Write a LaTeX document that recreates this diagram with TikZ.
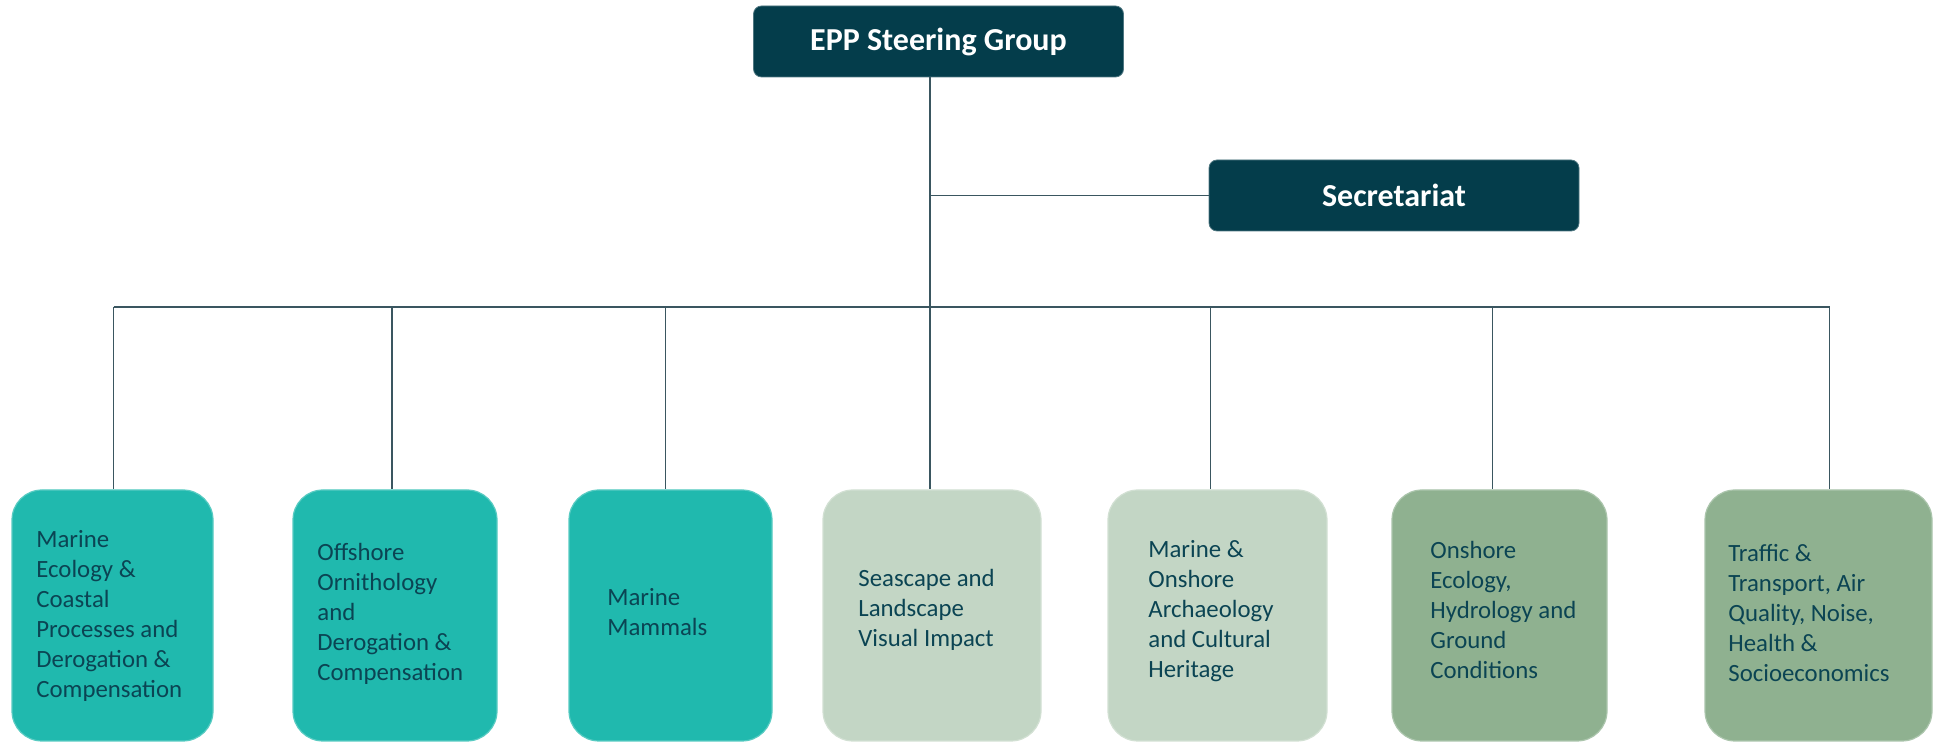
\documentclass[tikz,border=0pt]{standalone}
\usepackage{fontspec}
\setmainfont{Carlito}

\definecolor{headfill}{HTML}{043D4B}
\definecolor{tealfill}{HTML}{20B9AE}
\definecolor{sagelight}{HTML}{C3D6C5}
\definecolor{sagedark}{HTML}{8FB190}
\definecolor{boxtext}{HTML}{0B4453}
\definecolor{linkline}{HTML}{3A5660}

\tikzset{
	head/.style={rectangle, rounded corners=4pt, fill=headfill, draw=headfill!70!white, line width=0.4pt,
		minimum width=185pt, minimum height=35.5pt, text=white, font=\fontsize{16}{19}\selectfont\bfseries},
	group/.style={rectangle, rounded corners=15pt, fill=#1, draw=#1!75!white, line width=0.6pt,
		minimum height=125.5pt, inner sep=0pt},
	grouptext/.style={anchor=west, inner sep=0pt, align=left, text=boxtext, font=\fontsize{12.4}{15}\selectfont},
	link/.style={draw=linkline, line width=0.75pt}
}

\begin{document}
\begin{tikzpicture}[x=0.5pt, y=-0.5pt]
		\useasboundingbox ( 0, 0 ) rectangle ( 1935, 742 );

		% руководство
		\node [head] (epp) at ( 938.5, 41.5 ) {EPP Steering Group};
		\node [head] (sec) at ( 1394, 195.5 ) {Secretariat};

		% рабочие группы
		\node [group=tealfill, minimum width=100.5pt] (g1) at ( 112.5, 615.5 ) {};
		\node [group=tealfill, minimum width=102pt] (g2) at ( 395, 615.5 ) {};
		\node [group=tealfill, minimum width=101.5pt] (g3) at ( 670.5, 615.5 ) {};
		\node [group=sagelight, minimum width=109pt] (g4) at ( 932, 615.5 ) {};
		\node [group=sagelight, minimum width=109.5pt] (g5) at ( 1217.5, 615.5 ) {};
		\node [group=sagedark, minimum width=107.5pt] (g6) at ( 1499.5, 615.5 ) {};
		\node [group=sagedark, minimum width=113.5pt] (g7) at ( 1818.5, 615.5 ) {};

		\node [grouptext] (t1) at ( 36, 616 ) {Marine\\Ecology \&\\Coastal\\Processes and\\Derogation \&\\Compensation};
		\node [grouptext] (t2) at ( 317, 614 ) {Offshore\\Ornithology\\and\\Derogation \&\\Compensation};
		\node [grouptext] (t3) at ( 607, 612 ) {Marine\\Mammals};
		\node [grouptext] (t4) at ( 858, 610 ) {Seascape and\\Landscape\\Visual Impact};
		\node [grouptext] (t5) at ( 1148, 611 ) {Marine \&\\Onshore\\Archaeology\\and Cultural\\Heritage};
		\node [grouptext] (t6) at ( 1430, 610 ) {Onshore\\Ecology,\\Hydrology and\\Ground\\Conditions};
		\node [grouptext] (t7) at ( 1728, 613 ) {Traffic \&\\Transport, Air\\Quality, Noise,\\Health \&\\Socioeconomics};

		% связи
		\coordinate (bus) at ( 930, 307 );
		\draw [link] ([xshift=-1pt]g4.north |- epp.south) -- ([xshift=-1pt]g4.north);
		\draw [link] ([xshift=-1pt]g4.north |- sec.west) -- (sec.west);
		\draw [link] ([xshift=0.5pt]g1.north |- bus) -- ([xshift=5.5pt]g7.north |- bus);
		\foreach \g/\dx in {g1/0.5, g2/-1.5, g3/-2.5, g5/-3.5, g6/-3.5, g7/5.5}
			\draw [link] ([xshift=\dx pt]\g.north |- bus) -- ([xshift=\dx pt]\g.north);
	\end{tikzpicture}
\end{document}
